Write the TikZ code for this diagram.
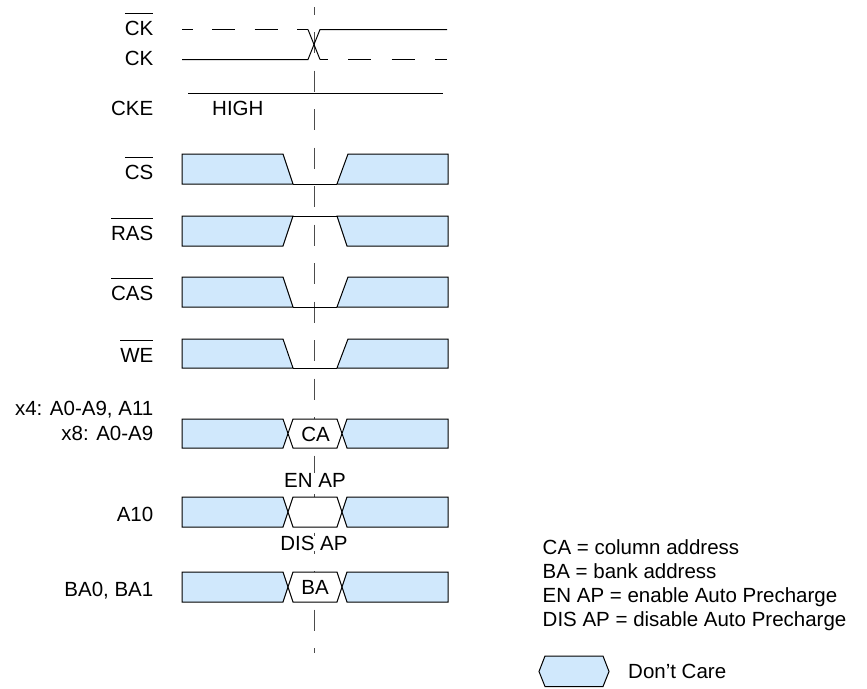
\documentclass[tikz,border=0pt]{standalone}
\usepackage{fontspec}
\setmainfont{Liberation Sans}
\definecolor{dc}{RGB}{208,232,252}
\newlength\ovlw
\newcommand\ovl[1]{\settowidth\ovlw{#1}\makebox[0pt][l]{\rule[21.5pt]{\ovlw}{0.9pt}}#1}
\newcommand\dlow[2]{%
  \draw[dcbox] (182,#1) -- (283,#1) -- (293,#2) -- (182,#2) -- cycle;
  \draw[wire] (293,#2) -- (337,#2);
  \draw[dcbox] (337,#2) -- (348,#1) -- (448,#1) -- (448,#2) -- cycle;}
\newcommand\dhigh[2]{%
  \draw[dcbox] (182,#1) -- (293,#1) -- (283,#2) -- (182,#2) -- cycle;
  \draw[wire] (293,#1) -- (337,#1);
  \draw[dcbox] (337,#1) -- (347,#2) -- (448,#2) -- (448,#1) -- cycle;}
\newcommand\dhex[3]{%
  \draw[dcbox] (182,#1) -- (283,#1) -- (288,#3) -- (283,#2) -- (182,#2) -- cycle;
  \draw[wire,fill=white] (288,#3) -- (293,#1) -- (337,#1) -- (342,#3) -- (337,#2) -- (293,#2) -- cycle;
  \draw[dcbox] (342,#3) -- (347,#1) -- (448,#1) -- (448,#2) -- (347,#2) -- cycle;}
\begin{document}
\begin{tikzpicture}[x=1pt,y=-1pt,
  font=\fontsize{20.5}{24.6}\selectfont,
  dcbox/.style={draw=black,line width=1pt,fill=dc,line join=miter},
  wire/.style={draw=black,line width=1pt},
  lbl/.style={anchor=base east,inner sep=0pt},
  leg/.style={anchor=base west,inner sep=0pt},
  mid/.style={anchor=base,inner sep=0pt},
  midw/.style={anchor=base,inner sep=0pt,fill=white}]
\useasboundingbox (0,0) rectangle (867,688);
% reference line
\coordinate (vt) at (314.5,7);
\coordinate (vb) at (314.5,653);
\draw[black!70,line width=1pt,dash pattern=on 21pt off 17.5pt,dash phase=13.5pt] (vt) -- (vb);
% clocks
\draw[wire,dash pattern=on 23pt off 19.5pt,dash phase=12.5pt] (182,29.5) -- (308,29.5);
\draw[wire] (308,29.5) -- (320,59.5);
\draw[wire,dash pattern=on 23pt off 20.5pt,dash phase=15.5pt] (320,59.5) -- (447,59.5);
\draw[wire] (182,59.5) -- (308,59.5) -- (320,29.5) -- (447,29.5);
% CKE
\draw[wire] (188,93) -- (443,93);
\node[leg] (high) at (212,115.3) {HIGH};
% control signals
\dlow{154}{184}
\dhigh{216}{246}
\dlow{277}{307}
\dlow{339}{368}
% address rows
\dhex{419}{448}{433.5}
\dhex{497}{527}{512}
\dhex{572}{602}{587}
\node[mid] (ca) at (315.5,441.3) {CA};
\node[mid] (ba) at (315,594.3) {BA};
\node[midw] (enap) at (315,487.3) {EN AP};
\node[midw] (disap) at (314,550.3) {DIS AP};
% labels
\node[lbl] (lckn) at (153.5,35.3) {\ovl{CK}};
\node[lbl] (lck) at (153.5,65.3) {CK};
\node[lbl] (lcke) at (153.5,115.3) {CKE};
\node[lbl] (lcs) at (153.5,179.3) {\ovl{CS}};
\node[lbl] (lras) at (153.5,240.3) {\ovl{RAS}};
\node[lbl] (lcas) at (153.5,300.3) {\ovl{CAS}};
\node[lbl] (lwe) at (153.5,362.3) {\ovl{WE}};
\node[lbl] (lx4) at (153.5,415.3) {x4: A0-A9, A11};
\node[lbl] (lx8) at (153.5,440.3) {x8: A0-A9};
\node[lbl] (la10) at (153.5,521.3) {A10};
\node[lbl] (lba) at (153.5,596.3) {BA0, BA1};
% legend
\node[leg] (g1) at (542.5,554.3) {CA = column address};
\node[leg] (g2) at (542.5,578.3) {BA = bank address};
\node[leg] (g3) at (542.5,602.3) {EN AP = enable Auto Precharge};
\node[leg] (g4) at (542.5,626.3) {DIS AP = disable Auto Precharge};
\draw[dcbox] (539,671.5) -- (545,656) -- (603,656) -- (609,671.5) -- (603,686.5) -- (545,686.5) -- cycle;
\node[leg] (g5) at (628,678.3) {Don’t Care};
\end{tikzpicture}
\end{document}
